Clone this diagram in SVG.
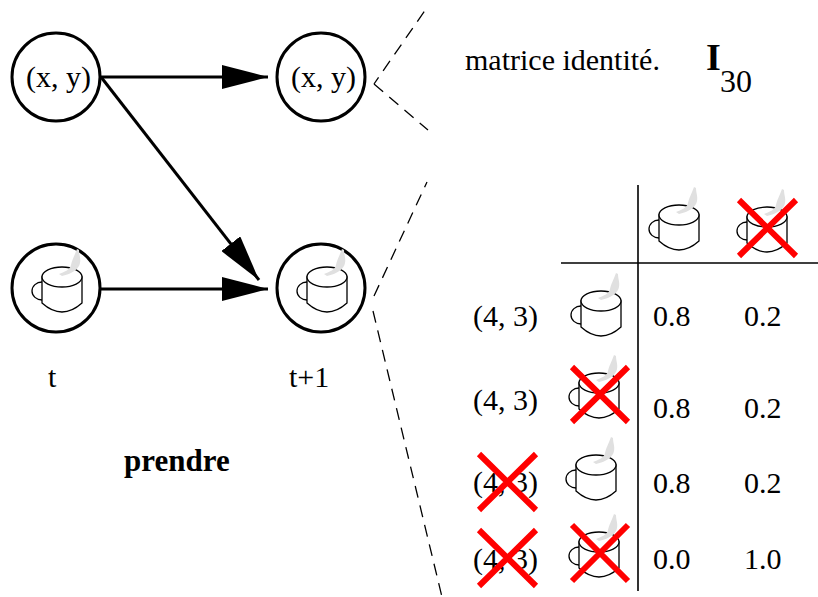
<svg xmlns="http://www.w3.org/2000/svg" width="818" height="597" viewBox="0 0 818 597">
<style>
text{font-family:"Liberation Serif","Times New Roman",serif;font-size:30px;fill:#000}
.n{fill:#fff;stroke:#000;stroke-width:3}
.c{fill:none;stroke:#000;stroke-width:1.3}
.w{fill:#fff;stroke:#000;stroke-width:1.3}
.s{fill:#e0e0e0}
.x{stroke:#f00;stroke-width:6;fill:none}
.d{stroke:#000;stroke-width:1.3;stroke-dasharray:12 8;fill:none}
.l{stroke:#000;stroke-width:3;fill:none}
.r{stroke:#000;stroke-width:1.6;fill:none}
</style>
<defs>
<symbol id="cup" overflow="visible">
<path class="c" d="M-20 5A10 9 0 0 0 -20 23"/>
<path class="w" d="M-20 0V26Q-10 35 0 35Q10 35 20 26V0Z"/>
<ellipse class="w" cx="0" cy="0" rx="20" ry="10"/>
<path class="s" d="M-3 -3C2 -5 8 -7 9 -12C10 -17 12 -20 15 -28L17 -27C17 -22 19 -19 18 -14C17 -8 10 -3 0 -1Z"/>
</symbol>
<marker id="ah" markerUnits="userSpaceOnUse" markerWidth="46" markerHeight="24" refX="46" refY="12" orient="auto"><path d="M0 0L46 12L0 24Z" fill="#000"/></marker>
</defs>
<g id="connectors">
<path class="l" d="M101 77H268" marker-end="url(#ah)"/>
<path class="l" d="M101 77L259 280" marker-end="url(#ah)"/>
<path class="l" d="M101 289H268" marker-end="url(#ah)"/>
<path class="d" style="stroke-dashoffset:4" d="M374 84L426 9"/>
<path class="d" d="M374 84L428 130"/>
<path class="d" d="M374 296L427 182"/>
<path class="d" d="M373 311L442 597"/>
</g>
<g id="n1"><circle class="n" cx="56" cy="77" r="44"/><text x="26" y="87">(x, y)</text></g>
<g id="n2"><circle class="n" cx="321" cy="77" r="44"/><text x="291" y="87">(x, y)</text></g>
<g id="n3"><circle class="n" cx="56" cy="288" r="44"/><use href="#cup" x="62" y="277"/></g>
<g id="n4"><circle class="n" cx="321" cy="288" r="44"/><use href="#cup" x="327" y="277"/></g>
<g id="labels">
<text x="48" y="387">t</text>
<text x="289" y="387">t+1</text>
<text x="124" y="471" font-weight="bold" style="font-size:31px">prendre</text>
<text x="465" y="70">matrice identité.</text>
<text x="706" y="70" font-weight="bold" style="font-size:38px">I</text>
<text x="720" y="92" style="font-size:32px">30</text>
</g>
<g id="table">
<path class="r" d="M638 185V591M561 263H818"/>
<use href="#cup" x="679" y="215"/>
<use href="#cup" x="767" y="217"/>
<path class="x" d="M739 200L796 256M796 200L739 256"/>
<use href="#cup" x="601" y="301"/>
<use href="#cup" x="599" y="383"/>
<path class="x" d="M572 367L628 422M628 367L572 422"/>
<use href="#cup" x="596" y="465"/>
<use href="#cup" x="599" y="542"/>
<path class="x" d="M572 525L628 581M628 525L572 581"/>
<text x="473" y="326">(4, 3)</text>
<text x="473" y="410">(4, 3)</text>
<text x="473" y="492">(4, 3)</text>
<text x="473" y="569">(4, 3)</text>
<path class="x" d="M479 454L536 510M536 454L479 510"/>
<path class="x" d="M479 530L536 586M536 530L479 586"/>
<text x="653" y="326">0.8</text><text x="744" y="326">0.2</text>
<text x="653" y="418">0.8</text><text x="744" y="418">0.2</text>
<text x="653" y="493">0.8</text><text x="744" y="493">0.2</text>
<text x="653" y="569">0.0</text><text x="744" y="569">1.0</text>
</g>
</svg>
